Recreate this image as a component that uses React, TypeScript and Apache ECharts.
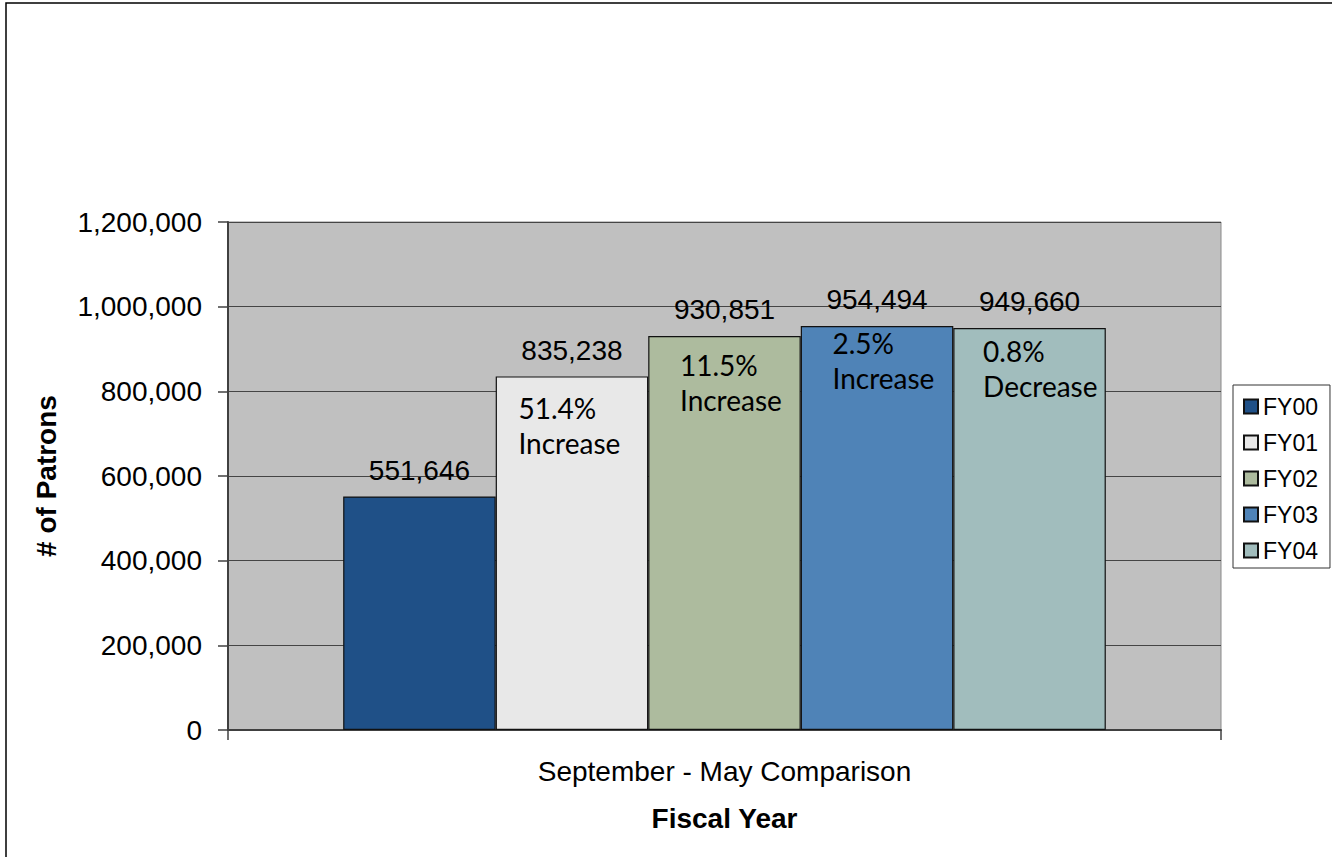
import React, { useEffect, useRef } from "react";
import * as echarts from "echarts";

// Patron counts, September - May, by fiscal year
const categories = ["September - May Comparison"];
const fiscalYears = ["FY00", "FY01", "FY02", "FY03", "FY04"];
const patrons = [551646, 835238, 930851, 954494, 949660];
const changeNotes = ["", "51.4%\nIncrease", "11.5%\nIncrease", "2.5%\nIncrease", "0.8%\nDecrease"];

// Value axis
const yMin = 0;
const yMax = 1200000;
const yStep = 200000;

// Styling
const barColors = ["#1F5087", "#E8E8E8", "#ADBB9E", "#4F83B7", "#A1BDBD"];
// where each change note sits, relative to the top centre of its bar
const noteOffsets: ([number, number] | null)[] = [null, [-53, 15], [-44, 12], [-44, 0], [-46, 6]];

const sans = "'Liberation Sans', Arial, sans-serif";
const noteFont = "Lato, 'Open Sans', sans-serif";

export default function App() {
  const ref = useRef<HTMLDivElement>(null);

  useEffect(() => {
    if (!ref.current) return;
    const chart = echarts.init(ref.current, null, { renderer: "svg" });

    const series = fiscalYears.map((name, i) => ({
      type: "bar",
      name,
      data: [patrons[i]],
      barGap: "0%",
      barCategoryGap: "23.2%",
      itemStyle: { color: barColors[i], borderColor: "#111", borderWidth: 1.2 },
      label: {
        show: true,
        position: "top",
        distance: 12,
        formatter: (p: any) => Number(p.value).toLocaleString("en-US"),
        fontFamily: sans,
        fontSize: 28,
        color: "#000",
      },
      markPoint: changeNotes[i]
        ? {
            symbol: "rect",
            symbolSize: 1,
            silent: true,
            itemStyle: { color: "rgba(0,0,0,0)", borderWidth: 0 },
            label: {
              show: true,
              position: noteOffsets[i],
              formatter: changeNotes[i],
              fontFamily: noteFont,
              fontSize: 28,
              lineHeight: 35,
              color: "#000",
              align: "left",
              verticalAlign: "top",
            },
            data: [{ coord: [categories[0], patrons[i]] }],
          }
        : undefined,
    }));

    chart.setOption({
      animation: false,
      backgroundColor: "#FFFFFF",
      grid: {
        left: 228,
        top: 222,
        right: 111,
        bottom: 127,
        show: true,
        backgroundColor: "#C0C0C0",
        borderColor: "#8A8A8A",
        borderWidth: 1,
      },
      legend: {
        data: fiscalYears,
        orient: "vertical",
        left: 1233,
        top: 385,
        padding: [10, 12, 6, 10],
        itemWidth: 14,
        itemHeight: 14,
        itemGap: 13,
        icon: "rect",
        borderColor: "#333",
        borderWidth: 1,
        textStyle: { fontFamily: sans, fontSize: 23, color: "#000" },
      },
      xAxis: {
        type: "category",
        data: categories,
        name: "Fiscal Year",
        nameLocation: "middle",
        nameGap: 74,
        nameTextStyle: { fontFamily: sans, fontSize: 28, fontWeight: "bold", color: "#000" },
        axisLine: { show: true, lineStyle: { color: "#404040", width: 2 } },
        axisTick: { show: true, length: 10, lineStyle: { color: "#404040", width: 1.5 } },
        axisLabel: { fontFamily: sans, fontSize: 28, color: "#000", margin: 27 },
      },
      yAxis: {
        type: "value",
        min: yMin,
        max: yMax,
        interval: yStep,
        name: "# of Patrons",
        nameLocation: "middle",
        nameRotate: 90,
        nameGap: 168,
        nameTextStyle: { fontFamily: sans, fontSize: 28, fontWeight: "bold", color: "#000" },
        axisLine: { show: true, lineStyle: { color: "#404040", width: 2 } },
        axisTick: { show: true, length: 10, lineStyle: { color: "#404040", width: 1.5 } },
        axisLabel: {
          fontFamily: sans,
          fontSize: 28,
          color: "#000",
          margin: 26,
          formatter: (v: number) => v.toLocaleString("en-US"),
        },
        splitLine: { show: true, lineStyle: { color: "#454545", width: 1 } },
      },
      graphic: [
        {
          type: "rect",
          silent: true,
          shape: { x: 6, y: 3, width: 1400, height: 900 },
          style: { fill: "none", stroke: "#000", lineWidth: 1.5 },
        },
      ],
      series,
    });

    return () => chart.dispose();
  }, []);

  return (
    <div
      ref={ref}
      style={{ position: "absolute", left: 0, top: 0, width: 1332, height: 857 }}
    />
  );
}
